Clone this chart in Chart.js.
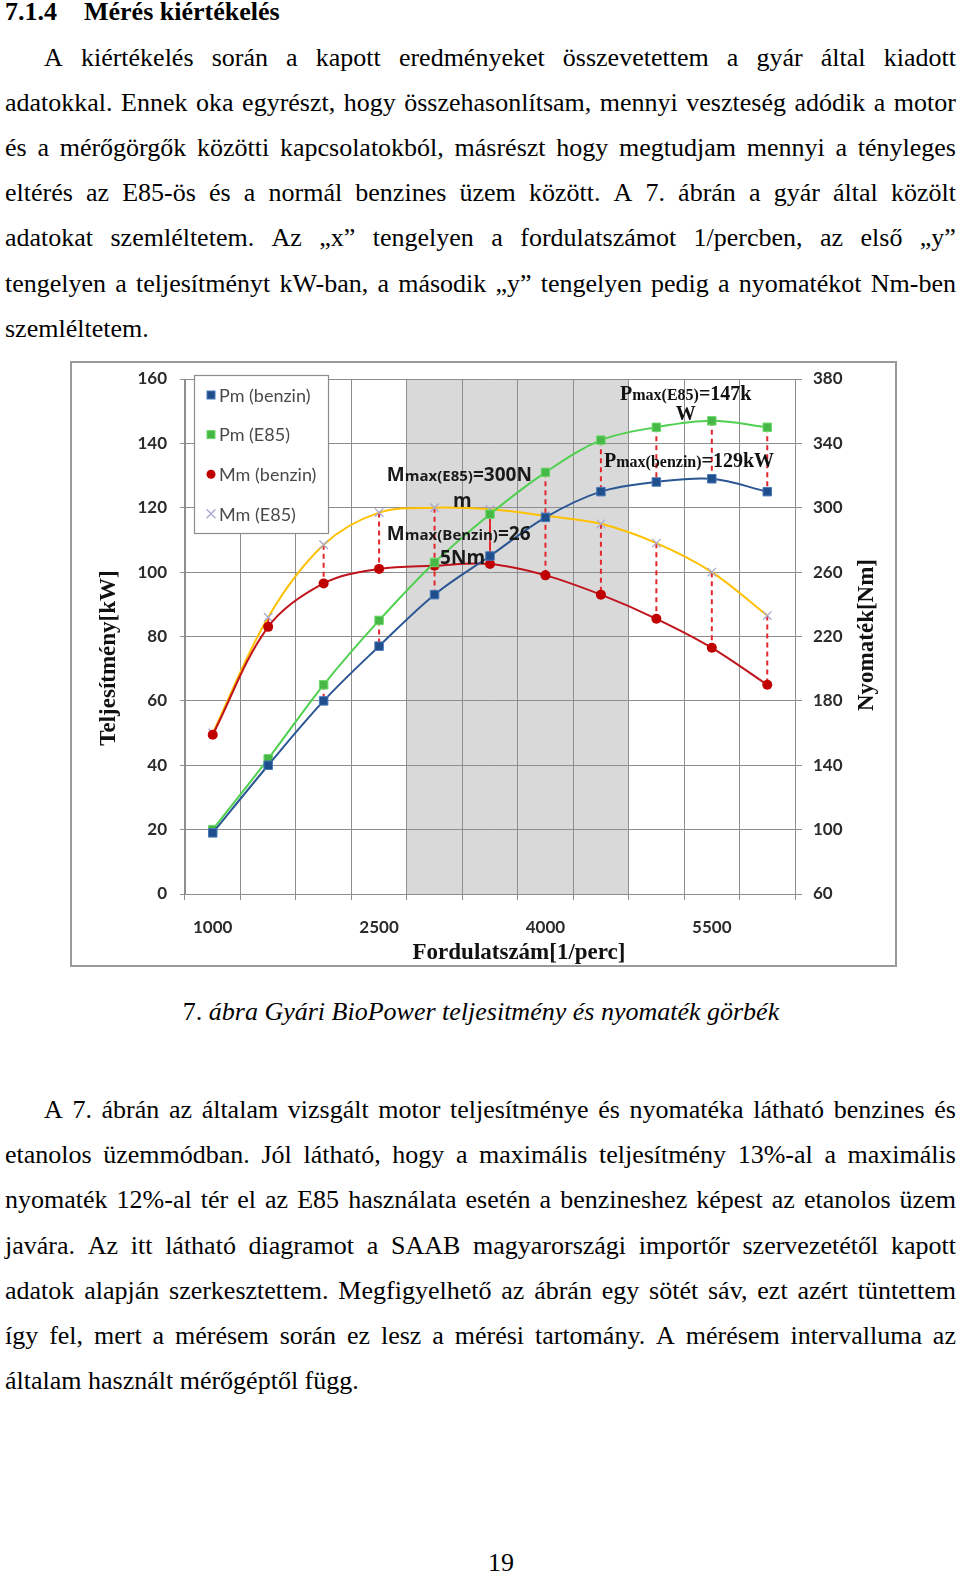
<!DOCTYPE html>
<html>
<head>
<meta charset="utf-8">
<script src="https://cdn.jsdelivr.net/npm/chart.js@4.4.1/dist/chart.umd.min.js"></script>
<style>
body{margin:0;background:#fff;width:960px;height:1575px;position:relative;overflow:hidden;font-family:"Liberation Serif","Times New Roman",serif;font-size:26px;color:#000}
.ln{position:absolute;height:45px;line-height:45px;white-space:nowrap}
.just{display:flex;justify-content:space-between}
#frame{position:absolute;left:70px;top:361px;width:827px;height:606px;box-sizing:border-box;border:2px solid #9a9a9a}
#frame canvas{position:absolute;left:0;top:0}
</style>
</head>
<body>

<div class="ln" style="left:5px;top:-11px;font-weight:bold">7.1.4</div>
<div class="ln" style="left:84px;top:-11px;font-weight:bold">Mérés kiértékelés</div>

<div id="para1"></div>

<div id="frame"><canvas id="chart" width="823" height="602"></canvas></div>

<div class="ln" style="left:0;width:962px;top:989px;text-align:center">7. <i>ábra Gyári BioPower teljesitmény és nyomaték görbék</i></div>

<div id="para2"></div>

<div class="ln" style="left:0;width:1002px;top:1540px;text-align:center">19</div>

<script>
// DATA
const rpm = ['1000','1500','2000','2500','3000','3500','4000','4500','5000','5500','6000'];
const pmBenzin = [19, 40, 60, 77, 93, 105, 117, 125, 128, 129, 125];
const pmE85 = [20, 42, 65, 85, 103, 118, 131, 141, 145, 147, 145];
const mmBenzin = [159, 226, 253, 262, 264, 265, 258, 246, 231, 213, 190];
const mmE85 = [160, 232, 277, 297, 300, 299, 295, 290, 278, 260, 233];
const shownTicks = ['1000','2500','4000','5500'];
const bandFrom = '3000';
const bandTo = '4500';

// PAGE TEXT

const para1 = [
"A kiértékelés során a kapott eredményeket összevetettem a gyár által kiadott",
"adatokkal. Ennek oka egyrészt, hogy összehasonlítsam, mennyi veszteség adódik a motor",
"és a mérőgörgők közötti kapcsolatokból, másrészt hogy megtudjam mennyi a tényleges",
"eltérés az E85-ös és a normál benzines üzem között. A 7. ábrán a gyár által közölt",
"adatokat szemléltetem. Az „x” tengelyen a fordulatszámot 1/percben, az első „y”",
"tengelyen a teljesítményt kW-ban, a második „y” tengelyen pedig a nyomatékot Nm-ben",
"szemléltetem."
];
const para2 = [
"A 7. ábrán az általam vizsgált motor teljesítménye és nyomatéka látható benzines és",
"etanolos üzemmódban. Jól látható, hogy a maximális teljesítmény 13%-al a maximális",
"nyomaték 12%-al tér el az E85 használata esetén a benzineshez képest az etanolos üzem",
"javára. Az itt látható diagramot a SAAB magyarországi importőr szervezetétől kapott",
"adatok alapján szerkesztettem. Megfigyelhető az ábrán egy sötét sáv, ezt azért tüntettem",
"így fel, mert a mérésem során ez lesz a mérési tartomány. A mérésem intervalluma az",
"általam használt mérőgéptől függ."
];

function writePara(id, lines, top){
const box = document.getElementById(id);
lines.forEach((txt, i)=>{
const d = document.createElement("div");
const last = i === lines.length - 1;
d.className = last ? "ln" : "ln just";
const left = i === 0 ? 44 : 5;
d.style.left = left + "px";
d.style.top = (top + i*45.2) + "px";
if(last){
d.textContent = txt;
}else{
d.style.width = (956 - left) + "px";
txt.split(" ").forEach(w=>{
const s = document.createElement("span");
s.textContent = w;
d.appendChild(s);
});
}
box.appendChild(d);
});
}
writePara("para1", para1, 34.5);
writePara("para2", para2, 1087);

// CHART

const gridC = "#8e8e8e";
const tickFont = {family:"Lato", size:17, weight:"bold"};

const bandPlugin = {
id:"band",
beforeDraw(chart){
const x = chart.scales.x, a = chart.chartArea, ctx = chart.ctx;
const half = (x.getPixelForValue(1) - x.getPixelForValue(0))/2;
const x0 = x.getPixelForValue(rpm.indexOf(bandFrom)) - half;
const x1 = x.getPixelForValue(rpm.indexOf(bandTo)) + half;
ctx.save();
ctx.fillStyle = "#d9d9d9";
ctx.fillRect(x0, a.top, x1 - x0, a.bottom - a.top);
ctx.restore();
}
};

// high-low lines per axis group
const hiLoPlugin = {
id:"hilo",
beforeDatasetsDraw(chart){
const {x, y, y1} = chart.scales, ctx = chart.ctx;
ctx.save();
ctx.strokeStyle = "#e3262b";
ctx.lineWidth = 2;
ctx.setLineDash([5,4]);
rpm.forEach((r, i)=>{
const px = x.getPixelForValue(i);
[[y, pmE85[i], pmBenzin[i]], [y1, mmE85[i], mmBenzin[i]]].forEach(p=>{
ctx.beginPath();
ctx.moveTo(px, p[0].getPixelForValue(p[1]));
ctx.lineTo(px, p[0].getPixelForValue(p[2]));
ctx.stroke();
});
});
ctx.restore();
}
};

function drawRuns(ctx, runs, x, y, align){
let w = 0;
runs.forEach(r=>{ ctx.font = r[1]; w += ctx.measureText(r[0]).width; });
let cx = align === "center" ? x - w/2 : x;
ctx.textAlign = "left";
ctx.textBaseline = "alphabetic";
runs.forEach(r=>{ ctx.font = r[1]; ctx.fillText(r[0], cx, y); cx += ctx.measureText(r[0]).width; });
}

const mBig = "bold 19px 'Open Sans'", mSmall = "bold 15px 'Open Sans'";
const pBig = "bold 20px 'Liberation Serif'", pSmall = "bold 16px 'Liberation Serif'";

// notes anchored at (category index, kW value)
const notes = [
{at:[3.14, 128.3], align:"left", color:"#1a1a1a", runs:[["M",mBig],["max(E85)",mSmall],["=300N",mBig]]},
{at:[4.5, 120.2], align:"center", color:"#1a1a1a", runs:[["m",mBig]]},
{at:[3.14, 110.1], align:"left", color:"#1a1a1a", runs:[["M",mBig],["max(Benzin)",mSmall],["=26",mBig]]},
{at:[4.1, 102.4], align:"left", color:"#1a1a1a", runs:[["5Nm",mBig]]},
{at:[8.53, 153.6], align:"center", color:"#111", runs:[["P",pBig],["max(E85)",pSmall],["=147k",pBig]]},
{at:[8.53, 147.4], align:"center", color:"#111", runs:[["W",pBig]]},
{at:[8.59, 132.8], align:"center", color:"#111", runs:[["P",pBig],["max(benzin)",pSmall],["=129kW",pBig]]}
];

const notePlugin = {
id:"notes",
afterDatasetsDraw(chart){
const {x, y} = chart.scales, ctx = chart.ctx;
ctx.save();
notes.forEach(n=>{
ctx.fillStyle = n.color;
drawRuns(ctx, n.runs, x.getPixelForValue(n.at[0]), y.getPixelForValue(n.at[1]), n.align);
});
ctx.restore();
}
};

function marker(ctx, ds, px, py){
ctx.save();
ctx.fillStyle = ds.pointBackgroundColor;
ctx.strokeStyle = ds.pointBorderColor;
ctx.lineWidth = 1;
if(ds.pointStyle === "rect"){
ctx.fillRect(px-4, py-4, 8, 8);
ctx.strokeRect(px-4, py-4, 8, 8);
}else if(ds.pointStyle === "circle"){
ctx.beginPath(); ctx.arc(px, py, 4.5, 0, Math.PI*2); ctx.fill();
}else{
ctx.lineWidth = 1.3;
ctx.beginPath();
ctx.moveTo(px-4.5, py-4.5); ctx.lineTo(px+4.5, py+4.5);
ctx.moveTo(px+4.5, py-4.5); ctx.lineTo(px-4.5, py+4.5);
ctx.stroke();
}
ctx.restore();
}

const legendPlugin = {
id:"boxLegend",
afterDraw(chart){
const a = chart.chartArea, ctx = chart.ctx;
const bx = a.left + 9, by = a.top - 4;
ctx.save();
ctx.fillStyle = "#fff";
ctx.fillRect(bx, by, 134, 158);
ctx.strokeStyle = "#8c8c8c";
ctx.lineWidth = 1.2;
ctx.strokeRect(bx + .5, by + .5, 134, 158);
ctx.font = "18px Lato";
ctx.textBaseline = "middle";
ctx.textAlign = "left";
chart.data.datasets.forEach((ds, i)=>{
const cy = by + 20 + i*39.6;
marker(ctx, ds, bx + 17, cy);
ctx.fillStyle = "#4a4a4a";
ctx.fillText(ds.label, bx + 25, cy + 1);
});
ctx.restore();
}
};

const titlePlugin = {
id:"titles",
afterDraw(chart){
const ctx = chart.ctx;
ctx.save();
ctx.fillStyle = "#111";
ctx.font = "bold 23px 'Liberation Serif'";
ctx.textAlign = "center";
ctx.textBaseline = "middle";
ctx.fillText("Fordulatszám[1/perc]", 447, 590);
ctx.translate(37, 295);
ctx.rotate(-Math.PI/2);
ctx.fillText("Teljesítmény[kW]", 0, 0);
ctx.restore();
ctx.save();
ctx.fillStyle = "#111";
ctx.font = "bold 23px 'Liberation Serif'";
ctx.textAlign = "center";
ctx.textBaseline = "middle";
ctx.translate(795, 272);
ctx.rotate(-Math.PI/2);
ctx.fillText("Nyomaték[Nm]", 0, 0);
ctx.restore();
}
};

function noPad(s){
s.paddingTop = 0;
s.paddingBottom = 0;
}

new Chart(document.getElementById("chart"),{
type:"line",
data:{
labels:rpm,
datasets:[
{label:"Pm (benzin)", data:pmBenzin, yAxisID:"y", borderColor:"#2b5694", borderWidth:2, pointStyle:"rect", pointRadius:6, pointBackgroundColor:"#1f4e8c", pointBorderColor:"#4a78b8", pointBorderWidth:1, tension:0.35},
{label:"Pm (E85)", data:pmE85, yAxisID:"y", borderColor:"#4fd04f", borderWidth:2, pointStyle:"rect", pointRadius:6, pointBackgroundColor:"#45b845", pointBorderColor:"#6fd86f", pointBorderWidth:1, tension:0.35},
{label:"Mm (benzin)", data:mmBenzin, yAxisID:"y1", borderColor:"#c0141c", borderWidth:2, pointStyle:"circle", pointRadius:5, pointBackgroundColor:"#c00000", pointBorderColor:"#c00000", pointBorderWidth:0, tension:0.35},
{label:"Mm (E85)", data:mmE85, yAxisID:"y1", borderColor:"#ffc000", borderWidth:2, pointStyle:"crossRot", pointRadius:6, pointBackgroundColor:"#a8a8d0", pointBorderColor:"#a8a8d0", pointBorderWidth:1.3, tension:0.35}
]
},
options:{
responsive:false,
animation:false,
events:[],
layout:{padding:{top:16, left:0, right:0, bottom:0}},
plugins:{legend:{display:false}, tooltip:{enabled:false}},
scales:{
x:{
offset:true,
grid:{offset:true, color:gridC, tickLength:6},
border:{color:gridC},
ticks:{autoSkip:false, maxRotation:0, padding:17, font:tickFont, color:"#2b2b2b",
callback:(v, i)=> shownTicks.includes(rpm[i]) ? rpm[i] : ""},
afterFit:s=>{ s.height = 71; s.paddingLeft = 0; s.paddingRight = 0; }
},
y:{
position:"left", min:0, max:160,
grid:{color:gridC, tickLength:5},
border:{color:gridC},
ticks:{stepSize:20, padding:13, font:tickFont, color:"#2b2b2b"},
afterFit:s=>{ s.width = 113; noPad(s); }
},
y1:{
position:"right", min:60, max:380,
grid:{drawOnChartArea:false, color:gridC, tickLength:7},
border:{color:gridC},
ticks:{stepSize:40, padding:11, font:tickFont, color:"#2b2b2b"},
afterFit:s=>{ s.width = 100; noPad(s); }
}
}
},
plugins:[bandPlugin, hiLoPlugin, notePlugin, legendPlugin, titlePlugin]
});
</script>
</body>
</html>
